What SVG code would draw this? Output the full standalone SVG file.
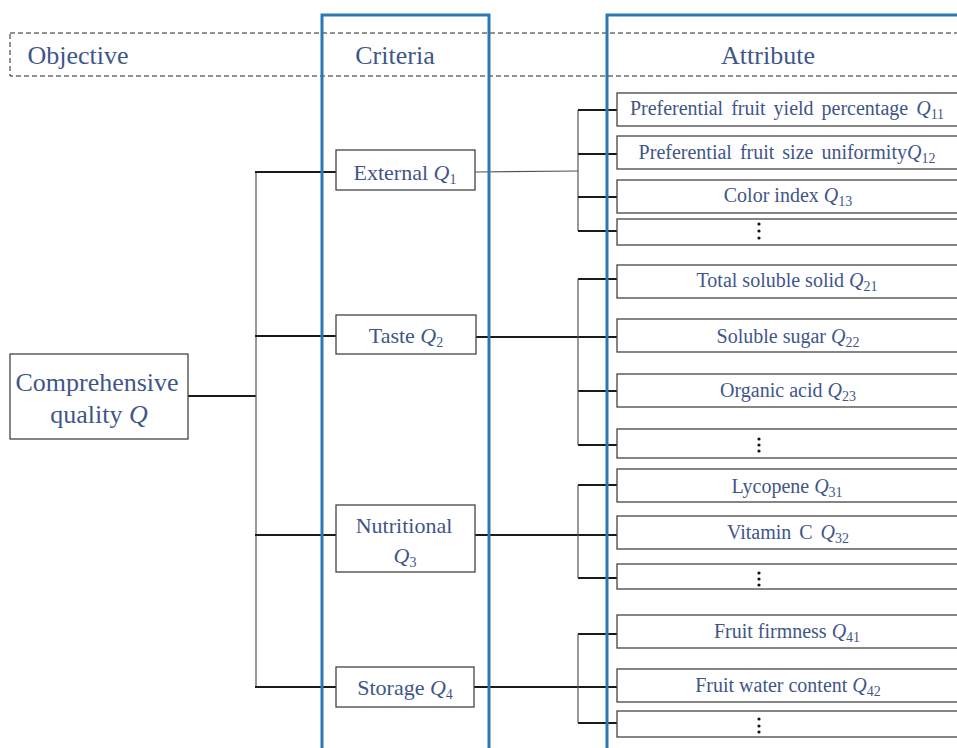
<svg xmlns="http://www.w3.org/2000/svg" width="957" height="748" viewBox="0 0 957 748">
<style>
text{font-family:"Liberation Serif","Times New Roman",serif;fill:#3f5689;text-anchor:middle}
.h{font-size:26px}
.c{font-size:22px}
.a{font-size:20px}
.q{font-style:italic}
.s{font-size:14px}
.sa{font-size:14px}
.box{fill:#fff;stroke:#444;stroke-width:1.3}
.ln{stroke:#1a1a1a;stroke-width:2;fill:none}
.lt{stroke:#555;stroke-width:1.2;fill:none}
.blue{fill:none;stroke:#2b78b3;stroke-width:3}
.dot{fill:#111}
</style>
<rect x="0" y="0" width="957" height="748" fill="#fff"/>
<rect x="10" y="33" width="960" height="43" fill="none" stroke="#222" stroke-width="1" stroke-dasharray="5,3"/>
<g id="connectors">
<path class="ln" d="M188 396H256"/>
<path class="lt" d="M256 172V687"/>
<path class="ln" d="M255 172H336M255 336H336M255 535H336M255 687H336"/>
<path class="lt" d="M475 172L578 171"/>
<path class="lt" d="M578 110V231"/>
<path class="ln" d="M578 110H617M578 154H617M578 197H617M578 231H617"/>
<path class="ln" d="M476 337H617"/>
<path class="ln" d="M578 279H617M578 391H617M578 445H617"/>
<path class="lt" d="M578 279V445"/>
<path class="ln" d="M475 535H617"/>
<path class="ln" d="M578 485H617M578 578H617"/>
<path class="lt" d="M578 485V578"/>
<path class="ln" d="M474 687H617"/>
<path class="ln" d="M578 634H617M578 723H617"/>
<path class="lt" d="M578 634V723"/>
</g>
<g id="headers">
<text class="h" x="78" y="64">Objective</text>
<text class="h" x="395" y="64">Criteria</text>
<text class="h" x="768" y="64">Attribute</text>
</g>
<g id="objective">
<rect class="box" x="10" y="354" width="178" height="85"/>
<text class="h" x="97" y="391">Comprehensive</text>
<text class="h" x="99" y="423">quality <tspan class="q">Q</tspan></text>
</g>
<g id="q1"><rect class="box" x="336" y="150" width="139" height="40"/><text class="c" x="405" y="180">External  <tspan class="q">Q</tspan><tspan class="s" dy="4">1</tspan></text></g>
<g id="q2"><rect class="box" x="336" y="315" width="140" height="39"/><text class="c" x="406" y="343">Taste  <tspan class="q">Q</tspan><tspan class="s" dy="4">2</tspan></text></g>
<g id="q3"><rect class="box" x="336" y="505" width="139" height="67"/><text class="c" x="404" y="533">Nutritional</text><text class="c" x="405" y="563"><tspan class="q">Q</tspan><tspan class="s" dy="4">3</tspan></text></g>
<g id="q4"><rect class="box" x="336" y="667" width="138" height="40"/><text class="c" x="405" y="695">Storage  <tspan class="q">Q</tspan><tspan class="s" dy="4">4</tspan></text></g>
<g id="q11"><rect class="box" x="617" y="93" width="350" height="33"/><text class="a" x="787" y="115" word-spacing="3">Preferential fruit yield percentage <tspan class="q">Q</tspan><tspan class="sa" dy="4">11</tspan></text></g>
<g id="q12"><rect class="box" x="617" y="136" width="350" height="33"/><text class="a" x="787" y="159" word-spacing="3">Preferential fruit size uniformity<tspan class="q">Q</tspan><tspan class="sa" dy="4">12</tspan></text></g>
<g id="q13"><rect class="box" x="617" y="180" width="350" height="33"/><text class="a" x="788" y="202">Color index <tspan class="q">Q</tspan><tspan class="sa" dy="4">13</tspan></text></g>
<g id="q1x"><rect class="box" x="617" y="219" width="350" height="26"/><circle class="dot" cx="759" cy="224" r="1.6"/><circle class="dot" cx="759" cy="231" r="1.6"/><circle class="dot" cx="759" cy="238" r="1.6"/></g>
<g id="q21"><rect class="box" x="617" y="265" width="350" height="33"/><text class="a" x="787" y="287">Total soluble solid <tspan class="q">Q</tspan><tspan class="sa" dy="4">21</tspan></text></g>
<g id="q22"><rect class="box" x="617" y="319" width="350" height="33"/><text class="a" x="788" y="343">Soluble sugar <tspan class="q">Q</tspan><tspan class="sa" dy="4">22</tspan></text></g>
<g id="q23"><rect class="box" x="617" y="374" width="350" height="33"/><text class="a" x="788" y="397">Organic acid <tspan class="q">Q</tspan><tspan class="sa" dy="4">23</tspan></text></g>
<g id="q2x"><rect class="box" x="617" y="429" width="350" height="29"/><circle class="dot" cx="759" cy="439" r="1.6"/><circle class="dot" cx="759" cy="445" r="1.6"/><circle class="dot" cx="759" cy="451" r="1.6"/></g>
<g id="q31"><rect class="box" x="617" y="469" width="350" height="33"/><text class="a" x="787" y="493">Lycopene <tspan class="q">Q</tspan><tspan class="sa" dy="4">31</tspan></text></g>
<g id="q32"><rect class="box" x="617" y="516" width="350" height="33"/><text class="a" x="788" y="539" word-spacing="3">Vitamin C <tspan class="q">Q</tspan><tspan class="sa" dy="4">32</tspan></text></g>
<g id="q3x"><rect class="box" x="617" y="564" width="350" height="25"/><circle class="dot" cx="759" cy="573" r="1.6"/><circle class="dot" cx="759" cy="579" r="1.6"/><circle class="dot" cx="759" cy="585" r="1.6"/></g>
<g id="q41"><rect class="box" x="617" y="615" width="350" height="33"/><text class="a" x="787" y="638">Fruit firmness  <tspan class="q">Q</tspan><tspan class="sa" dy="4">41</tspan></text></g>
<g id="q42"><rect class="box" x="617" y="669" width="350" height="33"/><text class="a" x="788" y="692">Fruit water content <tspan class="q">Q</tspan><tspan class="sa" dy="4">42</tspan></text></g>
<g id="q4x"><rect class="box" x="617" y="711" width="350" height="26"/><circle class="dot" cx="759" cy="719" r="1.6"/><circle class="dot" cx="759" cy="726" r="1.6"/><circle class="dot" cx="759" cy="732" r="1.6"/></g>
<g id="columns">
<rect class="blue" x="322" y="15" width="167" height="760"/>
<rect class="blue" x="607" y="15" width="400" height="760"/>
</g>
</svg>
